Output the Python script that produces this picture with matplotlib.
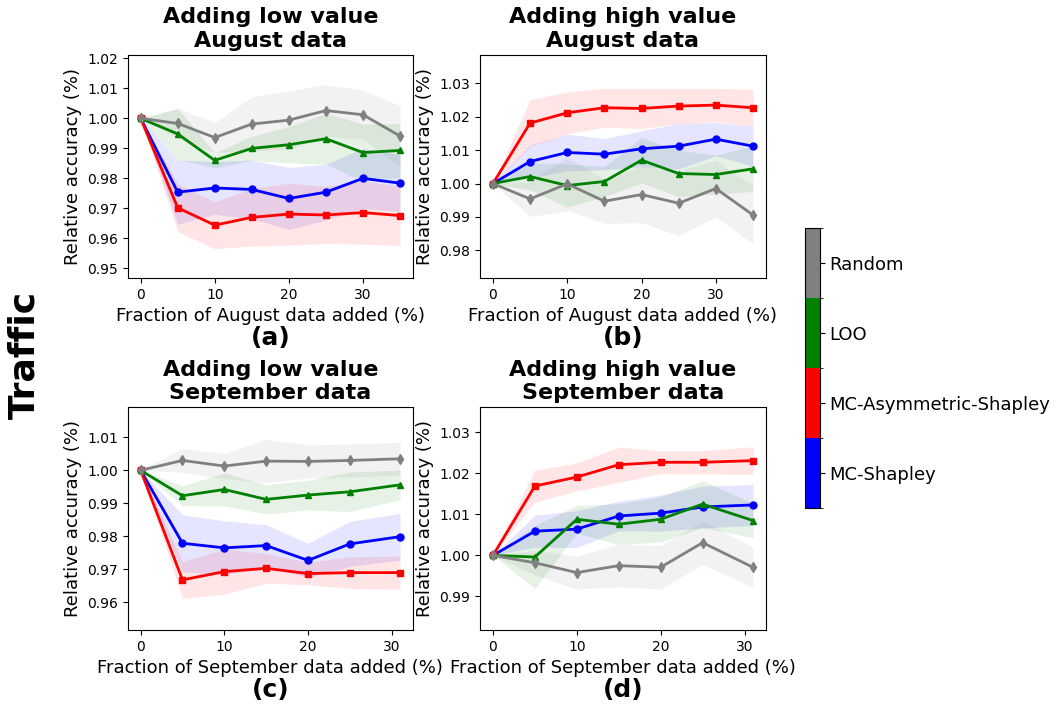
import numpy as np
import matplotlib
matplotlib.use("Agg")
import matplotlib.pyplot as plt
from matplotlib.colors import ListedColormap, BoundaryNorm
from matplotlib.colorbar import ColorbarBase

# ---------------- data ---------------- #
x_aug = [0, 5, 10, 15, 20, 25, 30, 35]
x_sep = [0, 5, 10, 15, 20, 25, 31]

methods = ["MC-Shapley", "MC-Asymmetric-Shapley", "LOO", "Random"]
colors = ["blue", "red", "green", "gray"]
markers = ["o", "s", "^", "d"]

# (a) low value August
a_mean = {
    "MC-Shapley": [1.0, 0.9754, 0.9768, 0.9763, 0.9733, 0.9754, 0.9800, 0.9784],
    "MC-Asymmetric-Shapley": [1.0, 0.9702, 0.9644, 0.9670, 0.9681, 0.9678, 0.9686, 0.9676],
    "LOO": [1.0, 0.9948, 0.9860, 0.9900, 0.9912, 0.9932, 0.9886, 0.9893],
    "Random": [1.0, 0.9983, 0.9936, 0.9981, 0.9994, 1.0026, 1.0012, 0.9941],
}
a_std = {
    "MC-Shapley": [0, 0.0107, 0.0088, 0.0098, 0.0103, 0.0093, 0.0100, 0.0094],
    "MC-Asymmetric-Shapley": [0, 0.0080, 0.0078, 0.0096, 0.0103, 0.0095, 0.0105, 0.0100],
    "LOO": [0, 0.0085, 0.0025, 0.0040, 0.0060, 0.0085, 0.0095, 0.0090],
    "Random": [0, 0.0050, 0.0050, 0.0090, 0.0097, 0.0086, 0.0082, 0.0101],
}

# (b) high value August
b_mean = {
    "MC-Shapley": [1.0, 1.0066, 1.0093, 1.0088, 1.0104, 1.0112, 1.0133, 1.0112],
    "MC-Asymmetric-Shapley": [1.0, 1.0181, 1.0212, 1.0227, 1.0225, 1.0232, 1.0235, 1.0227],
    "LOO": [1.0, 1.0021, 0.9994, 1.0006, 1.0070, 1.0030, 1.0027, 1.0044],
    "Random": [1.0, 0.9954, 0.9999, 0.9947, 0.9967, 0.9941, 0.9985, 0.9906],
}
b_std = {
    "MC-Shapley": [0, 0.0050, 0.0055, 0.0047, 0.0054, 0.0068, 0.0050, 0.0060],
    "MC-Asymmetric-Shapley": [0, 0.0070, 0.0063, 0.0058, 0.0060, 0.0053, 0.0050, 0.0055],
    "LOO": [0, 0.0040, 0.0065, 0.0045, 0.0068, 0.0070, 0.0058, 0.0068],
    "Random": [0, 0.0053, 0.0080, 0.0066, 0.0084, 0.0097, 0.0085, 0.0087],
}

# (c) low value September
c_mean = {
    "MC-Shapley": [1.0, 0.9779, 0.9765, 0.9772, 0.9727, 0.9777, 0.9799],
    "MC-Asymmetric-Shapley": [1.0, 0.9668, 0.9693, 0.9703, 0.9687, 0.9690, 0.9690],
    "LOO": [1.0, 0.9923, 0.9942, 0.9912, 0.9925, 0.9935, 0.9956],
    "Random": [1.0, 1.0030, 1.0013, 1.0028, 1.0027, 1.0030, 1.0035],
}
c_std = {
    "MC-Shapley": [0, 0.0086, 0.0082, 0.0063, 0.0052, 0.0068, 0.0071],
    "MC-Asymmetric-Shapley": [0, 0.0056, 0.0068, 0.0045, 0.0034, 0.0048, 0.0050],
    "LOO": [0, 0.0030, 0.0050, 0.0044, 0.0045, 0.0060, 0.0045],
    "Random": [0, 0.0036, 0.0038, 0.0066, 0.0050, 0.0050, 0.0050],
}

# (d) high value September
d_mean = {
    "MC-Shapley": [1.0, 1.0059, 1.0064, 1.0096, 1.0103, 1.0118, 1.0123],
    "MC-Asymmetric-Shapley": [1.0, 1.0169, 1.0191, 1.0221, 1.0227, 1.0227, 1.0231],
    "LOO": [1.0, 0.9996, 1.0088, 1.0076, 1.0088, 1.0125, 1.0085],
    "Random": [1.0, 0.9982, 0.9958, 0.9975, 0.9971, 1.0031, 0.9971],
}
d_std = {
    "MC-Shapley": [0, 0.0039, 0.0045, 0.0036, 0.0044, 0.0051, 0.0050],
    "MC-Asymmetric-Shapley": [0, 0.0039, 0.0034, 0.0043, 0.0028, 0.0028, 0.0034],
    "LOO": [0, 0.0077, 0.0034, 0.0050, 0.0055, 0.0057, 0.0042],
    "Random": [0, 0.0030, 0.0040, 0.0052, 0.0053, 0.0053, 0.0049],
}

titles = ["Adding low value\nAugust data", "Adding high value\nAugust data",
          "Adding low value\nSeptember data", "Adding high value\nSeptember data"]
xlabels = ["Fraction of August data added (%)", "Fraction of August data added (%)",
           "Fraction of September data added (%)", "Fraction of September data added (%)"]
letters = ["(a)", "(b)", "(c)", "(d)"]
ylims = [(0.9468, 1.0211), (0.9717, 1.0385), (0.9516, 1.0191), (0.9818, 1.0361)]

# ---------------- plot ---------------- #
fig = plt.figure(figsize=(10.56, 7.09), dpi=100)

positions = [
    [0.1209, 0.6079, 0.2702, 0.3145],
    [0.4545, 0.6079, 0.2708, 0.3145],
    [0.1209, 0.1114, 0.2702, 0.3141],
    [0.4545, 0.1114, 0.2708, 0.3141],
]
panels = [(x_aug, a_mean, a_std), (x_aug, b_mean, b_std),
          (x_sep, c_mean, c_std), (x_sep, d_mean, d_std)]

for i, (xs, means, stds) in enumerate(panels):
    ax = fig.add_axes(positions[i])
    for m, c, mk in zip(methods, colors, markers):
        mu = np.array(means[m])
        sd = np.array(stds[m])
        ax.fill_between(xs, mu - sd, mu + sd, color=c, alpha=0.1, linewidth=0)
        ax.plot(xs, mu, color=c, marker=mk, markersize=5, linewidth=2)
    ax.set_ylim(*ylims[i])
    ax.set_title(titles[i], fontsize=16, fontweight="bold")
    ax.set_xlabel(xlabels[i], fontsize=13)
    ax.set_ylabel("Relative accuracy (%)", fontsize=13)
    ax.tick_params(labelsize=10)
    ax.text(0.5, -0.27, letters[i], transform=ax.transAxes, ha="center", va="center",
            fontsize=18, fontweight="bold")

# discrete colour legend bar
cax = fig.add_axes([0.7623, 0.2835, 0.0142, 0.3949])
cmap = ListedColormap(colors)
norm = BoundaryNorm([0, 1, 2, 3, 4], cmap.N)
cb = ColorbarBase(cax, cmap=cmap, norm=norm, ticks=[0.5, 1.5, 2.5, 3.5])
cb.set_ticklabels(methods)
cb.ax.tick_params(labelsize=13)

fig.text(0.023, 0.499, "Traffic", rotation=90, ha="center", va="center",
         fontsize=26, fontweight="bold")

plt.savefig("out.png", dpi=100)
